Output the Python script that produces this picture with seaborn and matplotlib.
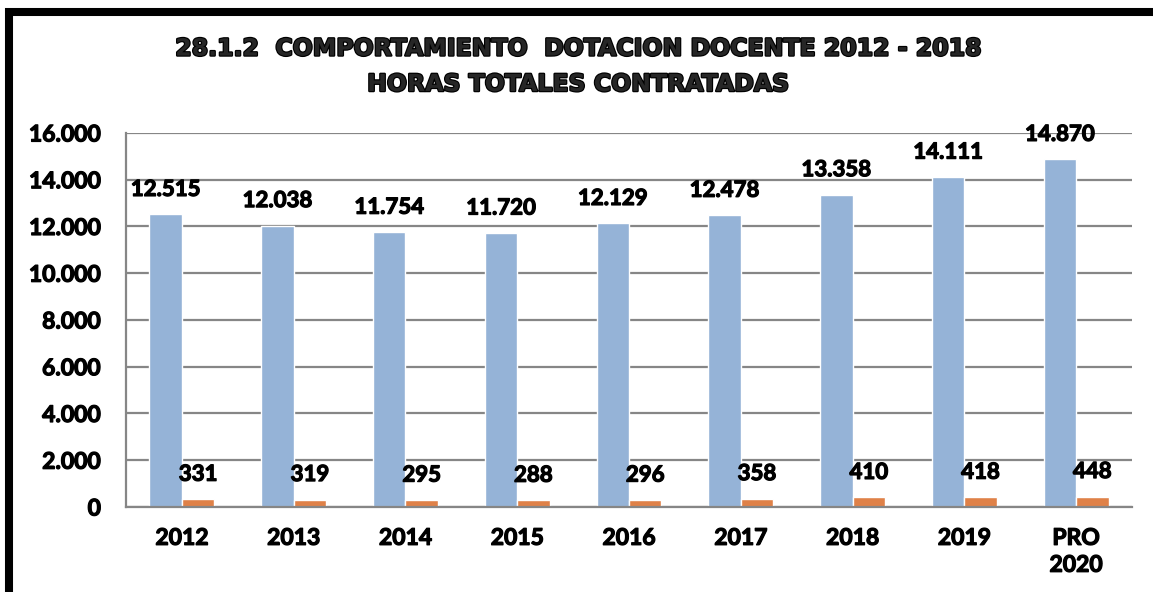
import matplotlib
matplotlib.use("Agg")
import matplotlib.pyplot as plt
import matplotlib.patheffects as pe
import seaborn as sns
import pandas as pd
from matplotlib.patches import Rectangle

categories = ["2012", "2013", "2014", "2015", "2016", "2017", "2018", "2019", "PRO\n2020"]
horas = [12515, 12038, 11754, 11720, 12129, 12478, 13358, 14111, 14870]
otras = [331, 319, 295, 288, 296, 358, 410, 418, 448]
series_names = ["Horas totales", "Serie 2"]
y_ticks = [0, 2000, 4000, 6000, 8000, 10000, 12000, 14000, 16000]

df = pd.DataFrame({
    "cat": categories * 2,
    "valor": horas + otras,
    "serie": [series_names[0]] * len(categories) + [series_names[1]] * len(categories),
})

sns.set_theme(style="white")
plt.rcParams["font.family"] = ["Lato", "DejaVu Sans"]

heavy = [pe.withStroke(linewidth=0.9, foreground="black")]
heavier = [pe.withStroke(linewidth=1.7, foreground="black")]

fig = plt.figure(figsize=(11.53, 5.92), dpi=100)
ax = fig.add_axes([0.1093, 0.1436, 0.8725, 0.6318])

palette = {series_names[0]: "#95B3D7", series_names[1]: "#DF8148"}
sns.barplot(data=df, x="cat", y="valor", hue="serie", palette=palette,
            width=0.58, gap=0, saturation=1, ax=ax, legend=False)

ax.set_ylim(0, 16000)
ax.set_yticks(y_ticks)
ax.set_yticklabels([f"{v:,}".replace(",", ".") for v in y_ticks])
ax.set_xlabel("")
ax.set_ylabel("")
ax.grid(axis="y", color="#868686", linewidth=1.6)
ax.set_axisbelow(True)
for s in ["top", "right"]:
    ax.spines[s].set_visible(False)
for s in ["left", "bottom"]:
    ax.spines[s].set_color("#868686")
    ax.spines[s].set_linewidth(1.6)
ax.tick_params(axis="both", length=0, labelsize=16.5)
ax.tick_params(axis="y", pad=18)
ax.tick_params(axis="x", pad=15)
for t in ax.get_xticklabels() + ax.get_yticklabels():
    t.set_fontweight("bold")
    t.set_color("black")
    t.set_path_effects(heavy)
for t in ax.get_xticklabels():
    t.set_linespacing(1.35)
    t.set_verticalalignment("top")

# value labels above each bar
for cont in ax.containers:
    for rect in cont:
        h = rect.get_height()
        ax.annotate(f"{int(round(h)):,}".replace(",", "."),
                    (rect.get_x() + rect.get_width() / 2, h),
                    xytext=(0, 25), textcoords="offset pixels",
                    ha="center", va="center", fontsize=16, fontweight="bold",
                    color="black", path_effects=heavy)

title_font = ["DejaVu Sans"]
fig.text(0.5015, 0.918, "28.1.2  COMPORTAMIENTO  DOTACION DOCENTE 2012 - 2018",
         ha="center", va="center", fontsize=17, fontweight="bold",
         family=title_font, path_effects=heavier)
fig.text(0.5015, 0.858, "HORAS TOTALES CONTRATADAS",
         ha="center", va="center", fontsize=17, fontweight="bold",
         family=title_font, path_effects=heavier)

# heavy black frame along the top and left edges
fig.patches.append(Rectangle((8.5 / 1153, -0.2), 1.5, 1.2 - 12 / 592,
                             transform=fig.transFigure, fill=False,
                             edgecolor="black", linewidth=5.8, zorder=10))

fig.savefig("out.png", dpi=100)
